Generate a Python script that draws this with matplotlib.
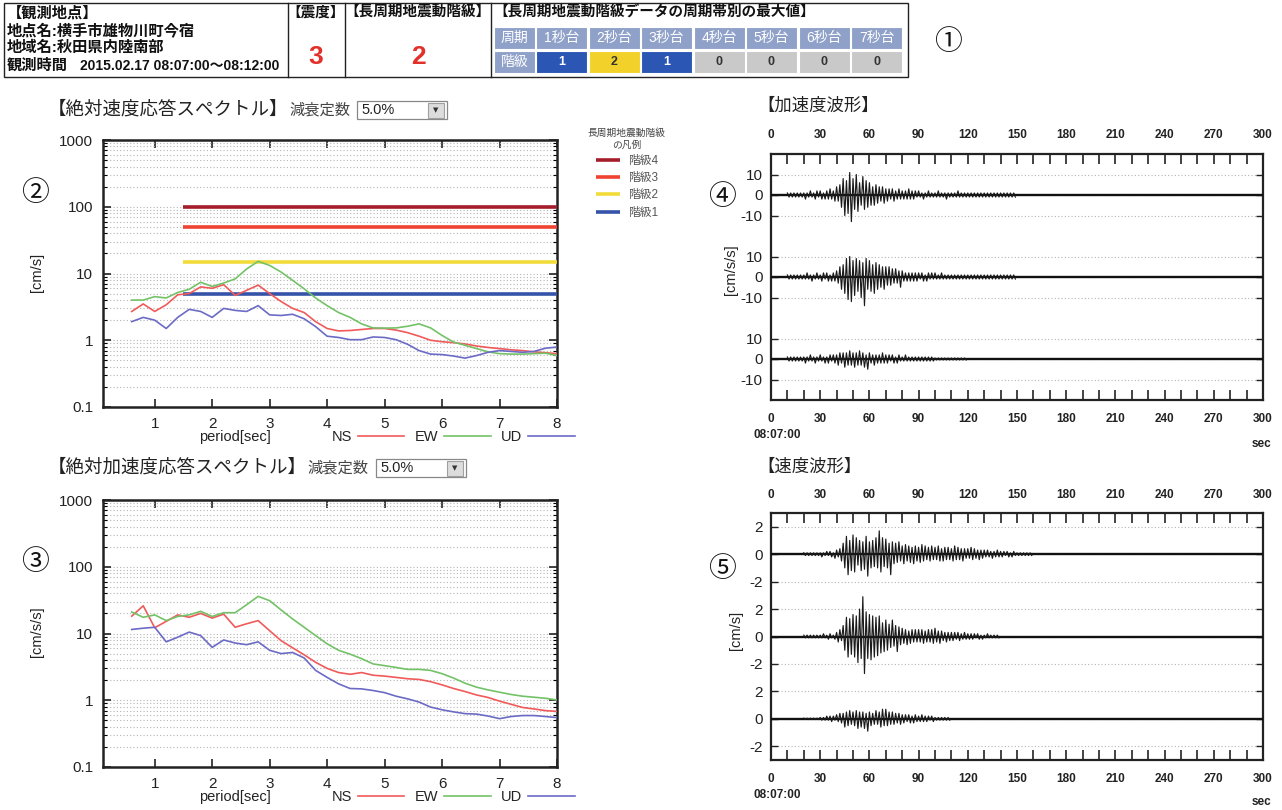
import numpy as np
import matplotlib
matplotlib.use('Agg')
import matplotlib.pyplot as plt
from matplotlib.patches import Rectangle
from matplotlib.ticker import FixedLocator, NullFormatter, LogLocator

plt.rcParams['font.family'] = ['Liberation Sans', 'Noto Sans CJK JP', 'DejaVu Sans']

# ---------------- data ----------------
STATION_LINES = ['【観測地点】', '地点名:横手市雄物川町今宿', '地域名:秋田県内陸南部']
OBS_LABEL = '観測時間'
OBS_TIME = '2015.02.17 08:07:00〜08:12:00'
INTENSITY = '3'
LP_CLASS = '2'
BAND_NAMES = ['1秒台', '2秒台', '3秒台', '4秒台', '5秒台', '6秒台', '7秒台']
BAND_CLASS = [1, 2, 1, 0, 0, 0, 0]

PERIODS = [0.6, 0.8, 1.0, 1.2, 1.4, 1.6, 1.8, 2.0, 2.2, 2.4,
           2.6, 2.8, 3.0, 3.2, 3.4, 3.6, 3.8, 4.0, 4.2, 4.4,
           4.6, 4.8, 5.0, 5.2, 5.4, 5.6, 5.8, 6.0, 6.2, 6.4,
           6.6, 6.8, 7.0, 7.2, 7.4, 7.6, 7.8, 8.0]
SV_NS = [2.7, 3.5, 2.7, 3.4, 4.8, 5.0, 6.3, 6.0, 6.8, 4.7,
         5.6, 6.7, 5.0, 3.8, 3.0, 2.6, 1.9, 1.5, 1.38, 1.4,
         1.45, 1.5, 1.5, 1.42, 1.3, 1.15, 1.0, 0.95, 0.92, 0.88,
         0.82, 0.78, 0.75, 0.72, 0.70, 0.67, 0.65, 0.63]
SV_EW = [4.0, 4.0, 4.5, 4.3, 5.2, 5.8, 7.4, 6.4, 7.2, 8.3,
         11.7, 15.2, 13.2, 10.5, 7.9, 5.9, 4.3, 3.3, 2.6, 2.2,
         1.76, 1.53, 1.52, 1.53, 1.62, 1.76, 1.53, 1.18, 0.94, 0.84,
         0.75, 0.67, 0.63, 0.62, 0.62, 0.63, 0.64, 0.59]
SV_UD = [1.9, 2.2, 2.0, 1.5, 2.2, 2.9, 2.7, 2.2, 3.0, 2.8,
         2.7, 3.3, 2.4, 2.35, 2.45, 2.1, 1.6, 1.15, 1.1, 1.02,
         1.02, 1.12, 1.1, 1.02, 0.87, 0.70, 0.62, 0.61, 0.58, 0.54,
         0.59, 0.66, 0.70, 0.68, 0.66, 0.68, 0.76, 0.79]
SA_NS = [18.2, 26, 12.2, 15.2, 19, 17.5, 20, 17, 19.5, 12.4,
         14, 15.6, 11, 7.8, 6.1, 4.8, 3.7, 3.0, 2.6, 2.45,
         2.6, 2.37, 2.3, 2.2, 2.1, 2.05, 1.9, 1.7, 1.5, 1.35,
         1.2, 1.1, 0.97, 0.87, 0.78, 0.74, 0.70, 0.68]
SA_EW = [21, 17.5, 19, 15.6, 18, 19, 21.5, 18, 20.5, 20.5,
         27, 36, 31, 22.5, 16.5, 12.4, 9.3, 7.0, 5.6, 4.9,
         4.2, 3.5, 3.3, 3.1, 2.9, 2.9, 2.8, 2.5, 2.15, 1.8,
         1.57, 1.43, 1.32, 1.22, 1.15, 1.11, 1.07, 1.01]
SA_UD = [11.5, 12, 12.4, 7.5, 8.8, 10.5, 9.3, 6.2, 8.0, 7.2,
         6.8, 7.5, 5.6, 5.0, 5.2, 4.3, 2.8, 2.2, 1.76, 1.5,
         1.48, 1.4, 1.3, 1.15, 1.05, 0.94, 0.79, 0.72, 0.67, 0.63,
         0.62, 0.58, 0.53, 0.57, 0.59, 0.59, 0.57, 0.55]

LEVEL_NAMES = ['階級4', '階級3', '階級2', '階級1']
LEVEL_VALUES = [100, 50, 15, 5]
LEVEL_PERIOD_RANGE = [1.5, 8.0]

TIME_RANGE = [0, 300]
ACC_T0 = 10
ACC_NS = [1, -1, 1, -1, 1, -1, 1, -1, 1, -1,
          1, -2, 1, -1, 2, -1, 1, -2, 2, -1,
          2, -2, 1, -2, 2, -2, 3, -2, 2, -3,
          4, -3, 5, -6, 8, -10, 7, -9, 11, -13,
          8, -7, 10, -8, 6, -5, 9, -7, 7, -6,
          6, -5, 4, -5, 5, -4, 4, -3, 4, -4,
          3, -3, 3, -2, 3, -3, 2, -2, 3, -2,
          2, -2, 2, -2, 3, -2, 2, -2, 2, -1,
          2, -1, 1, -2, 1, -1, 2, -1, 1, -1,
          1, -1, 2, -1, 1, -1, 1, -2, 1, -1,
          1, -1, 1, -1, 2, -1, 1, -1, 1, -1,
          1, -1, 1, -1, 1, -1, 1, -1, 1, -1,
          1, -1, 1, -1, 1, -1, 1, -1, 1, -1,
          1, -1, 1, -1, 1, -1, 1, -1, 1, -1]
ACC_EW = [1, -1, 1, -1, 1, -1, 1, -1, 1, -1,
          1, -1, 2, -1, 1, -2, 1, -1, 2, -1,
          1, -2, 2, -1, 2, -2, 1, -2, 2, -2,
          3, -3, 5, -6, 6, -8, 9, -11, 10, -12,
          8, -9, 9, -7, 8, -10, 7, -14, 9, -6,
          8, -7, 6, -8, 7, -6, 6, -5, 5, -6,
          5, -4, 5, -4, 4, -3, 4, -3, 3, -5,
          3, -2, 2, -2, 2, -2, 2, -2, 2, -2,
          2, -1, 2, -2, 1, -2, 2, -1, 2, -1,
          2, -1, 1, -1, 2, -1, 1, -1, 1, -1,
          1, -1, 1, -1, 1, -1, 1, -1, 1, -1,
          1, -1, 1, -1, 1, -1, 1, -1, 1, -1,
          1, -1, 1, -1, 1, -1, 1, -1, 1, -1,
          1, -1, 1, -1, 1, -1, 1, -1, 1, -1]
ACC_UD = [1, -1, 1, -1, 1, -1, 1, -1, 1, -1,
          1, -2, 1, -1, 2, -1, 1, -2, 1, -1,
          2, -1, 1, -2, 1, -2, 2, -1, 2, -2,
          2, -3, 3, -2, 3, -4, 3, -3, 4, -3,
          3, -4, 3, -3, 4, -3, 3, -4, 2, -5,
          3, -2, 2, -3, 2, -2, 2, -2, 3, -2,
          2, -2, 2, -1, 2, -2, 1, -2, 2, -1,
          1, -1, 2, -1, 1, -1, 1, -1, 1, -1,
          1, -1, 1, -1, 1, -1, 1, -1, 1, -1,
          0.5, -0.5, 0.5, -0.5, 0.5, -0.5, 0.5, -0.5, 0.5, -0.5,
          0.5, -0.5, 0.5, -0.5, 0.5, -0.5, 0.5, -0.5, 0.5, -0.5]

VEL_T0 = 20
VEL_NS = [.1, -.1, .1, -.1, .1, -.1, .1, -.1, .1, -.1,
          .1, -.2, .1, -.1, .2, -.1, .2, -.2, .1, -.3,
          .3, -.2, .4, -.5, .8, -1.0, 1.3, -1.5, 1.0, -1.2,
          1.4, -1.3, 1.2, -.8, 1.0, -1.2, .9, -1.1, 1.3, -1.6,
          .9, -1.0, 1.0, -.9, 1.2, -1.0, 1.7, -1.3, 1.2, -.9,
          1.1, -1.0, .8, -1.5, .9, -.7, .8, -.6, .9, -.5,
          .6, -.7, .7, -.5, .6, -.6, .5, -.7, .6, -.5,
          .5, -.6, .7, -.5, .6, -.4, .5, -.5, .6, -.4,
          .5, -.4, .6, -.5, .4, -.5, .5, -.4, .5, -.4,
          .4, -.5, .6, -.4, .5, -.4, .4, -.5, .4, -.3,
          .4, -.3, .5, -.4, .4, -.3, .3, -.4, .3, -.3,
          .3, -.2, .3, -.2, .2, -.3, .2, -.2, .3, -.2,
          .2, -.2, .2, -.1, .2, -.2, .1, -.2, .2, -.1,
          .1, -.1, .1, -.1, .1, -.1, .1, -.1, .1, -.1]
VEL_EW = [.1, -.1, .1, -.1, .1, -.1, .1, -.1, .1, -.1,
          .1, -.1, .2, -.1, .1, -.2, .2, -.1, .1, -.2,
          .3, -.4, .5, -.3, .8, -1.0, 1.4, -1.5, 1.3, -1.3,
          1.6, -1.5, 1.5, -1.9, 2.0, -1.6, 2.9, -2.7, 1.8, -1.6,
          1.6, -1.7, 1.5, -1.5, 1.4, -1.4, 1.5, -1.2, 1.0, -1.1,
          1.2, -1.0, .9, -.8, 1.2, -.7, .8, -1.1, .7, -.6,
          .6, -.5, .5, -.6, .4, -.5, .5, -.4, .5, -.4,
          .5, -.4, .5, -.5, .4, -.4, .5, -.4, .5, -.5,
          .6, -.4, .4, -.5, .4, -.3, .3, -.4, .3, -.3,
          .3, -.3, .3, -.2, .3, -.3, .2, -.2, .3, -.2,
          .2, -.2, .2, -.2, .2, -.1, .2, -.2, .1, -.2,
          .1, -.1, .2, -.1, .1, -.1, .1, -.1, .1, -.1]
VEL_UD = [.05, -.05, .05, -.05, .05, -.05, .05, -.05, .05, -.05,
          .1, -.1, .1, -.1, .2, -.1, .2, -.2, .2, -.1,
          .3, -.2, .4, -.3, .4, -.6, .5, -.5, .6, -.4,
          .5, -.5, .6, -.7, .5, -.6, .5, -.7, .4, -.9,
          .5, -.5, .4, -.4, .6, -.4, .5, -.6, .7, -.5,
          .7, -.5, .5, -.4, .5, -.4, .4, -.3, .4, -.4,
          .3, -.3, .3, -.2, .3, -.3, .2, -.3, .3, -.2,
          .2, -.2, .3, -.2, .2, -.2, .2, -.1, .2, -.2,
          .1, -.1, .1, -.1, .1, -.1, .1, -.1, .1, -.1]

# ---------------- styles ----------------
C_NS, C_EW, C_UD = '#f05a5a', '#74c268', '#6b6bc6'
LEVEL_COLORS = ['#a51d2b', '#ee4333', '#f2dc3a', '#3553a8']
CLASS_COLORS = {0: '#c9c9c9', 1: '#2b56b4', 2: '#f2d22a', 3: '#ee4333', 4: '#a51d2b'}
CLASS_TEXT = {0: '#333333', 1: 'white', 2: '#333333', 3: 'white', 4: 'white'}
HEAD_C = '#8fa1c9'

W, H = 1282, 810
fig = plt.figure(figsize=(W / 100, H / 100), dpi=100)


def box(x0, y0, x1, y1):
    return [x0 / W, 1 - y1 / H, (x1 - x0) / W, (y1 - y0) / H]


bg = fig.add_axes([0, 0, 1, 1])
bg.set_xlim(0, W)
bg.set_ylim(H, 0)
bg.axis('off')

# ---------------- top table ----------------
bg.add_patch(Rectangle((4, 3), 904, 74, fill=False, ec='#222', lw=1.0))
for xv in [288, 345, 491]:
    bg.plot([xv, xv], [3, 77], color='#222', lw=1.0)
for i, s in enumerate(STATION_LINES):
    bg.text(7, 13 + i * 17.5, s, fontsize=11, fontweight='bold', va='center', ha='left', color='#111')
bg.text(7, 66, OBS_LABEL, fontsize=11, fontweight='bold', va='center', ha='left', color='#111')
bg.text(80, 66, OBS_TIME, fontsize=10, fontweight='bold', va='center', ha='left', color='#111')
bg.text(316, 13, '【震度】', fontsize=10.5, fontweight='bold', va='center', ha='center', color='#111')
bg.text(316, 57, INTENSITY, fontsize=19, fontweight='bold', va='center', ha='center', color='#e2302a')
bg.text(418, 13, '【長周期地震動階級】', fontsize=10.5, fontweight='bold', va='center', ha='center', color='#111')
bg.text(418, 57, LP_CLASS, fontsize=19, fontweight='bold', va='center', ha='center', color='#e2302a')
bg.text(493, 13, '【長周期地震動階級データの周期帯別の最大値】', fontsize=10.5, fontweight='bold',
        va='center', ha='left', color='#111')
bg.add_patch(Rectangle((494, 27), 41, 22, fc=HEAD_C, ec='white', lw=0.8))
bg.add_patch(Rectangle((494, 51), 41, 22, fc=HEAD_C, ec='white', lw=0.8))
bg.text(514.5, 38, '周期', fontsize=10, color='white', ha='center', va='center')
bg.text(514.5, 62, '階級', fontsize=10, color='white', ha='center', va='center')
for i, (nm, cl) in enumerate(zip(BAND_NAMES, BAND_CLASS)):
    x0 = 536 + i * 52.5
    bg.add_patch(Rectangle((x0, 27), 51, 22, fc=HEAD_C, ec='white', lw=0.8))
    bg.text(x0 + 25.5, 38, nm, fontsize=10, color='white', ha='center', va='center')
    bg.add_patch(Rectangle((x0, 51), 51, 22, fc=CLASS_COLORS[cl], ec='white', lw=0.8))
    bg.text(x0 + 25.5, 62, str(cl), fontsize=9, fontweight='bold', color=CLASS_TEXT[cl],
            ha='center', va='center')

# circled numbers
for s, (x, y) in zip(['①', '②', '③', '④', '⑤'],
                     [(948, 42), (35, 193), (35, 562), (722, 197), (722, 569)]):
    bg.text(x, y, s, fontsize=20, ha='center', va='center', color='#111',
            family=['Noto Sans CJK JP', 'DejaVu Sans'])


def title_with_dropdown(y, title, x_label, x_box):
    bg.text(48, y, title, fontsize=13.3, ha='left', va='center', color='#222')
    bg.text(x_label, y, '減衰定数', fontsize=11, ha='left', va='center', color='#444')
    bg.add_patch(Rectangle((x_box, y - 9), 90, 18, fc='white', ec='#888', lw=0.9))
    bg.text(x_box + 4, y, '5.0%', fontsize=10.5, ha='left', va='center', color='#222')
    bg.add_patch(Rectangle((x_box + 71, y - 7.5), 16, 15, fc='#dcdcdc', ec='#a0a0a0', lw=0.8))
    bg.text(x_box + 79, y, '▼', fontsize=5, ha='center', va='center', color='#333',
            family='DejaVu Sans')


title_with_dropdown(110, '【絶対速度応答スペクトル】', 289, 357)
title_with_dropdown(468, '【絶対加速度応答スペクトル】', 307, 376)
bg.text(757, 106, '【加速度波形】', fontsize=12.5, ha='left', va='center', color='#222')
bg.text(757, 467, '【速度波形】', fontsize=12.5, ha='left', va='center', color='#222')


# ---------------- spectra ----------------
def spectrum(rect, ns, ew, ud, ylabel, y_label_pos, legend_y, levels=False):
    ax = fig.add_axes(box(*rect))
    ax.set_yscale('log')
    ax.set_xlim(0.1, 8)
    ax.set_ylim(0.1, 1000)
    lvl_handles = []
    if levels:
        for v, c in zip(LEVEL_VALUES, LEVEL_COLORS):
            h, = ax.plot(LEVEL_PERIOD_RANGE, [v, v], color=c, lw=2.6, solid_capstyle='butt', zorder=3)
            lvl_handles.append(h)
    l1, = ax.plot(PERIODS, ns, color=C_NS, lw=1.2, label='NS', zorder=4)
    l2, = ax.plot(PERIODS, ew, color=C_EW, lw=1.2, label='EW', zorder=4)
    l3, = ax.plot(PERIODS, ud, color=C_UD, lw=1.2, label='UD', zorder=4)
    ax.yaxis.set_major_locator(FixedLocator([0.1, 1, 10, 100, 1000]))
    ax.set_yticklabels(['0.1', '1', '10', '100', '1000'])
    ax.yaxis.set_minor_locator(LogLocator(base=10, subs=np.arange(2, 10)))
    ax.yaxis.set_minor_formatter(NullFormatter())
    ax.grid(True, which='both', axis='y', ls=(0, (1, 2)), color='#b5b5b5', lw=0.8)
    ax.set_xticks(range(1, 9))
    ax.tick_params(which='major', direction='in', top=True, right=True, length=6, width=1.2,
                   labelsize=11, pad=7, colors='#222')
    ax.tick_params(which='minor', direction='in', left=True, right=True, length=3, width=0.8)
    for s in ax.spines.values():
        s.set_linewidth(1.8)
        s.set_color('#222')
    bg.text(37, y_label_pos, ylabel, fontsize=10.5, rotation=90, ha='center', va='center', color='#222')
    bg.text(235, legend_y, 'period[sec]', fontsize=10.5, ha='center', va='center', color='#222')
    ax.legend(handles=[l1, l2, l3], ncol=3, markerfirst=False, frameon=False, fontsize=10.5,
              handlelength=3.2, handletextpad=0.4, columnspacing=0.7,
              loc='center', bbox_to_anchor=(453, legend_y), bbox_transform=bg.transData,
              borderpad=0, labelcolor='#222')
    return ax, lvl_handles


ax2, lvl = spectrum((103, 140, 557, 407), SV_NS, SV_EW, SV_UD, '[cm/s]', 272, 437, levels=True)
ax3, _ = spectrum((103, 500, 557, 767), SA_NS, SA_EW, SA_UD, '[cm/s/s]', 632, 797)

leg = bg.legend(handles=lvl, labels=LEVEL_NAMES, loc='upper left', bbox_to_anchor=(582, 122),
                bbox_transform=bg.transData, frameon=False, fontsize=8.5, title='長周期地震動階級\nの凡例',
                title_fontsize=7, handlelength=2.0, handletextpad=0.7, labelspacing=0.45,
                labelcolor='#555', borderpad=0)
leg.get_title().set_color('#444')
leg.get_title().set_multialignment('center')


# ---------------- waveforms ----------------
def waveform(rect, traces, offsets, ticks, lim, ylabel, ylab_x, ylab_y, t0_y, sec_y):
    ax = fig.add_axes(box(*rect))
    ax.set_xlim(*TIME_RANGE)
    ax.set_ylim(-lim, lim)
    for (t0, vals), off in zip(traces, offsets):
        t = t0 + np.arange(len(vals))
        ax.plot(TIME_RANGE, [off, off], color='#111', lw=1.7, zorder=3)
        ax.plot(t, off + np.asarray(vals, dtype=float), color='#1a1a1a', lw=0.85, zorder=4)
    pos, labs = [], []
    for off in offsets:
        for tk in ticks:
            pos.append(off + tk)
            labs.append(f'{tk:g}')
    ax.set_yticks(pos)
    ax.set_yticklabels(labs)
    ax.yaxis.grid(True, ls=(0, (1, 2)), color='#b5b5b5', lw=0.8)
    xt = np.arange(TIME_RANGE[0], TIME_RANGE[1] + 1, 10)
    ax.set_xticks(xt)
    ax.set_xticklabels([f'{v}' if v % 30 == 0 else '' for v in xt])
    ax.tick_params(axis='x', direction='in', top=True, bottom=True, labeltop=True, labelbottom=True,
                   length=7, width=1.2, labelsize=8.5, pad=9, colors='#222')
    ax.tick_params(axis='y', direction='in', left=True, right=True, length=5, width=1.0,
                   labelsize=11, pad=6, colors='#222')
    for lab in ax.get_xticklabels():
        lab.set_fontweight('bold')
    for s in ax.spines.values():
        s.set_linewidth(1.6)
        s.set_color('#222')
    bg.text(ylab_x, ylab_y, ylabel, fontsize=10.5, rotation=90, ha='center', va='center', color='#222')
    bg.text(777, t0_y, '08:07:00', fontsize=8.5, fontweight='bold', ha='center', va='center', color='#222')
    bg.text(1262, sec_y, 'sec', fontsize=8.5, fontweight='bold', ha='center', va='center', color='#222')
    return ax


waveform((771, 154, 1263, 400),
         [(ACC_T0, ACC_NS), (ACC_T0, ACC_EW), (ACC_T0, ACC_UD)], [40, 0, -40], [10, 0, -10], 60,
         '[cm/s/s]', 731, 270, 435, 444)
waveform((771, 513, 1263, 760),
         [(VEL_T0, VEL_NS), (VEL_T0, VEL_EW), (VEL_T0, VEL_UD)], [6, 0, -6], [2, 0, -2], 9,
         '[cm/s]', 736, 630, 795, 802)

fig.savefig('out.png', dpi=100)
